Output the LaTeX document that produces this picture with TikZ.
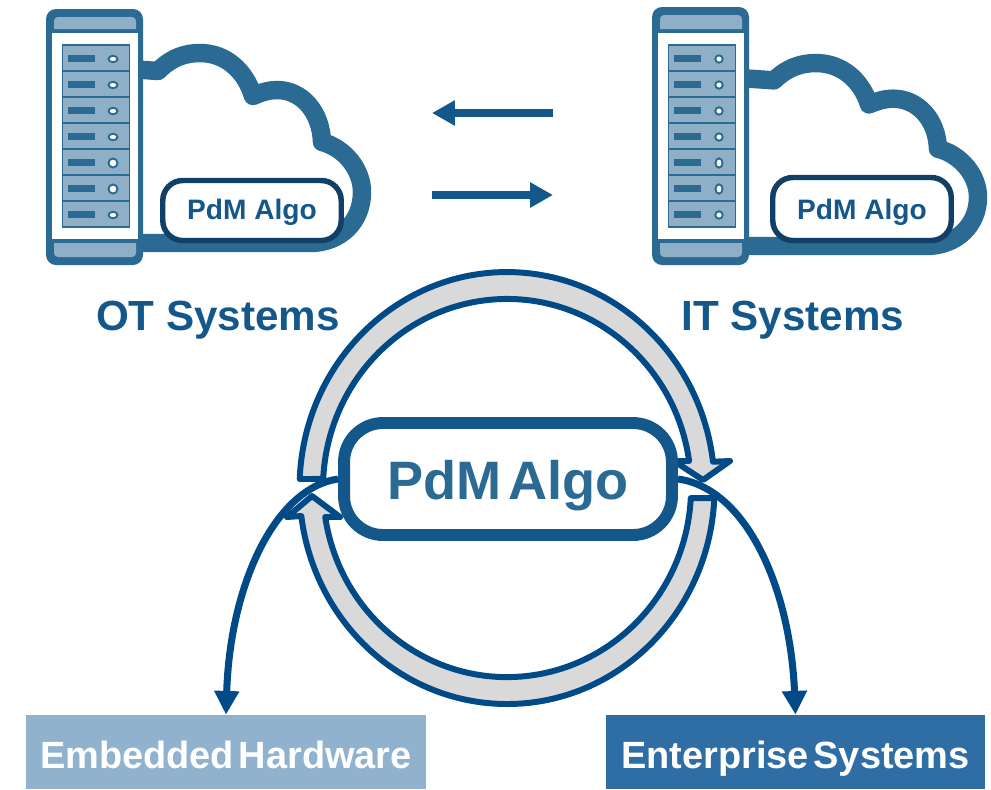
\documentclass[tikz,border=0pt]{standalone}
\usepackage{fontspec}
\usepackage{xcolor}
\usetikzlibrary{arrows.meta}
\setmainfont{Liberation Sans}
\newfontfamily\tightfont[WordSpace=0.45]{Liberation Sans}

\definecolor{serverdark}{HTML}{2A6A93}
\definecolor{serverlight}{HTML}{8FAFC6}
\definecolor{pilldark}{HTML}{123F66}
\definecolor{algoblue}{HTML}{14578A}
\definecolor{ringblue}{HTML}{004B87}
\definecolor{ringgrey}{HTML}{D9D9D9}
\definecolor{hwblue}{HTML}{90B2CE}
\definecolor{entblue}{HTML}{2F6EA5}

\tikzset{
    cloudline/.style={draw=serverdark, line width=10.5pt, line join=round},
    pillbox/.style={draw=pilldark, fill=white, line width=3.1pt, rounded corners=0.4cm, minimum width=3.57cm,
        inner sep=0pt, text depth=3.5pt, text=algoblue, font=\bfseries\fontsize{16}{18}\selectfont},
    sysarrow/.style={draw=algoblue, line width=4.5pt, -{Triangle[length=13pt, width=13.6pt]}},
    ringarrow/.style={draw=ringblue, fill=ringgrey, line width=3.4pt, line join=round},
    linkarrow/.style={draw=ringblue, line width=4pt, -{Triangle[length=13.5pt, width=13.5pt]}},
    syslabel/.style={text=algoblue, font=\bfseries\fontsize{24}{28}\selectfont},
    targetbox/.style={minimum height=1.48cm, inner sep=0pt, text height=23.2pt, text depth=5pt, text=white,
        font=\tightfont\bfseries\fontsize{21.6}{24}\selectfont}
}

% tower: x offset, top edge, list of unit/led radii
\newcommand{\serverrack}[3]{
    \begin{scope}[xshift=#1*0.02cm]
        \fill[serverdark, rounded corners=0.2cm] (46, #2) rectangle (143, 265);
        \fill[white] (52, 33) rectangle (138, 239);
        \fill[serverlight] (54, 29) [rounded corners=0.08cm] -- (54, #2+8) -- (136, #2+8) [sharp corners] -- (136, 29) -- cycle;
        \fill[serverlight] (54, 243) [rounded corners=0.08cm] -- (54, 257) -- (136, 257) [sharp corners] -- (136, 243) -- cycle;
        \foreach \i/\ledx/\ledy in {#3} {
            \pgfmathsetmacro\unittop{45+26*(\i-1)}
            \draw[serverdark, fill=serverlight, line width=0.9pt] (62.5, \unittop) rectangle ++(67, 26);
            \fill[serverdark] (68, \unittop+10) rectangle ++(27, 7);
            \draw[serverdark, fill=white, line width=1.1pt] (113, \unittop+14) ellipse [x radius=\ledx, y radius=\ledy];
        }
    \end{scope}
}

% cloud outline behind the tower
\newcommand{\cloudbody}{
    \draw[cloudline] (130, 69) -- (158, 71) .. controls (172, 57) and (186, 53) .. (200, 53)
        .. controls (225, 53) and (245, 70) .. (253, 96)
        .. controls (262, 92) and (270, 90) .. (277, 90)
        .. controls (302, 90) and (321, 112) .. (322, 142)
        .. controls (345, 148) and (362, 170) .. (362, 192)
        .. controls (362, 222) and (340, 243) .. (310, 243) -- (130, 243);
}

\begin{document}
\begin{tikzpicture}[x=0.02cm, y=-0.02cm]
    \useasboundingbox (0, 0) rectangle (991, 789);

    % OT side
    \cloudbody
    \serverrack{0}{9}{1/4.5/3.2, 2/4.5/3.2, 3/4.5/3.2, 4/4.5/3.2, 5/4.5/4.5, 6/4.5/4.5, 7/4.5/3.2}
    \node[pillbox, minimum height=1.2cm, text height=14.3pt] (otalgo) at (252, 210.5) {PdM Algo};
    \node[syslabel] (otlabel) at (218, 320.5) {OT Systems};

    % IT side
    \begin{scope}[shift={(616, 12)}, yscale=0.963]
        \cloudbody
    \end{scope}
    \serverrack{606}{7}{1/3.7/3.7, 2/3.7/3.7, 3/3.7/3.7, 4/3.7/3.7, 5/3.5/4.7, 6/3.5/4.7, 7/3.7/3.7}
    \node[pillbox, minimum height=1.26cm, text height=16pt] (italgo) at (862, 209) {PdM Algo};
    \node[syslabel] (itlabel) at (793, 320.5) {IT Systems};

    % Arrows between the systems
    \coordinate (itout) at (553, 113);
    \coordinate (otin) at (432, 113);
    \coordinate (otout) at (432, 195);
    \coordinate (itin) at (553, 195);
    \draw[sysarrow] (itout) -- (otin);
    \draw[sysarrow] (otout) -- (itin);

    % Ring around the algo box
    \path[ringarrow] (299.7, 479) arc[start angle=182.4, end angle=353, x radius=207.5, y radius=216]
        -- (730, 461) -- (703, 480) -- (674, 461) -- (689.1, 461)
        arc[start angle=351.8, end angle=182.73, x radius=184, y radius=189] -- cycle;
    \path[ringarrow] (714.3, 498) arc[start angle=2.65, end angle=172.55, x radius=207.5, y radius=216]
        -- (287, 517) -- (312, 496) -- (340, 517) -- (325.2, 517)
        arc[start angle=171.2, end angle=3.03, x radius=184, y radius=189] -- cycle;

    \node[draw=algoblue, fill=white, line width=6.8pt, rounded corners=0.78cm, minimum width=6.56cm, minimum height=2.24cm,
        inner sep=0pt, text height=29pt, text depth=6pt, text=serverdark, font=\tightfont\bfseries\fontsize{30.8}{34}\selectfont] (algo) at (508, 479) {PdM Algo};

    % Target boxes
    \node[targetbox, fill=hwblue, minimum width=8cm] (hw) at (226, 752) {Embedded Hardware};
    \node[targetbox, fill=entblue, minimum width=7.58cm] (ent) at (795.5, 752) {Enterprise Systems};

    \draw[linkarrow] (algo.west) .. controls (275, 488) and (230, 585) .. (hw.north);
    \draw[linkarrow] (algo.east) .. controls (745, 488) and (790, 585) .. (ent.north);

\end{tikzpicture}
\end{document}
